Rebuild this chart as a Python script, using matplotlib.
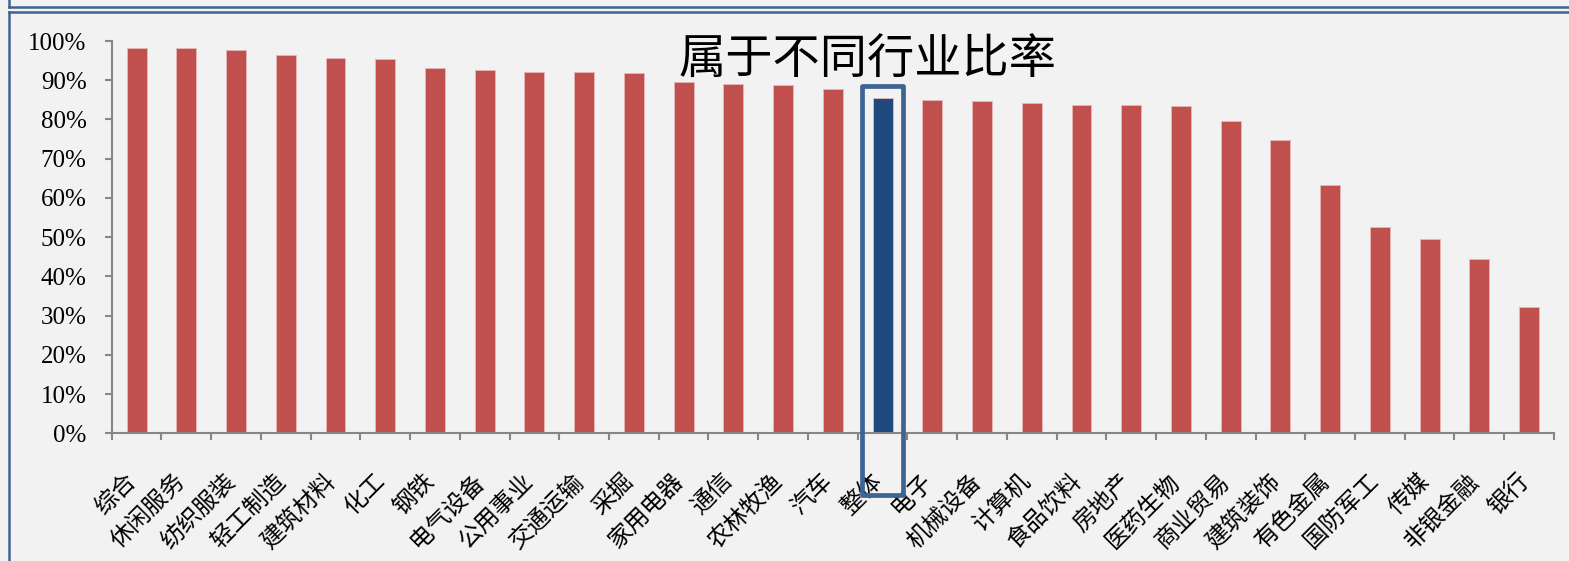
import matplotlib
matplotlib.use('Agg')
import matplotlib.pyplot as plt
from matplotlib.patches import Rectangle
from matplotlib.lines import Line2D
from matplotlib.transforms import ScaledTranslation
import numpy as np

industries = ['综合', '休闲服务', '纺织服装', '轻工制造', '建筑材料', '化工', '钢铁',
              '电气设备', '公用事业', '交通运输', '采掘', '家用电器', '通信', '农林牧渔',
              '汽车', '整体', '电子', '机械设备', '计算机', '食品饮料', '房地产',
              '医药生物', '商业贸易', '建筑装饰', '有色金属', '国防军工', '传媒',
              '非银金融', '银行']
ratio = [0.982, 0.981, 0.977, 0.964, 0.957, 0.953, 0.931, 0.925, 0.921, 0.920,
         0.918, 0.896, 0.890, 0.888, 0.877, 0.855, 0.850, 0.847, 0.842, 0.838,
         0.838, 0.835, 0.796, 0.747, 0.632, 0.527, 0.495, 0.445, 0.323]
highlight = '整体'
title = '属于不同行业比率'

bg = '#f2f2f2'
red = '#c0504d'
navy = '#1f497d'
frame = '#3e6493'
axis_gray = '#868686'

cjk = ['Noto Sans CJK SC', 'DejaVu Sans']

fig = plt.figure(figsize=(15.69, 5.61), dpi=100, facecolor=bg)
ax = fig.add_axes([0.0712, 0.2276, 0.9192, 0.6993], facecolor=bg)

x = np.arange(len(industries))
colors = [navy if name == highlight else red for name in industries]
ax.bar(x, ratio, width=0.4, color=colors, edgecolor='#e6b9b8', linewidth=0.6, zorder=2)

ax.set_xlim(-0.5, len(industries) - 0.5)
ax.set_ylim(0, 1)

# y axis: percent labels in a Times-like face
ax.set_yticks(np.arange(0, 1.01, 0.1))
ax.set_yticklabels(['%d%%' % v for v in range(0, 101, 10)], fontsize=18,
                   family='Liberation Serif')
ax.tick_params(axis='y', direction='out', length=5, width=1.5, color=axis_gray, pad=13)

# x axis: ticks between categories, names under each bar
ax.set_xticks(np.arange(-0.5, len(industries), 1.0))
ax.set_xticklabels([])
ax.set_xticks(x, minor=True)
ax.set_xticklabels(industries, minor=True, rotation=45, ha='right', va='center',
                   rotation_mode='anchor', fontsize=17, family=cjk)
ax.tick_params(axis='x', which='major', direction='out', length=5, width=1.5, color=axis_gray)
ax.tick_params(axis='x', which='minor', length=0, pad=32)
shift = ScaledTranslation(-0.04, 0, fig.dpi_scale_trans)
for lab in ax.get_xticklabels(minor=True):
    lab.set_transform(lab.get_transform() + shift)

for side in ['top', 'right']:
    ax.spines[side].set_visible(False)
for side in ['left', 'bottom']:
    ax.spines[side].set_color(axis_gray)
    ax.spines[side].set_linewidth(1.5)

# outline around the overall bar
i = industries.index(highlight)
box = Rectangle((i - 0.41, -0.157), 0.82, ratio[i] + 0.03 + 0.157, fill=False,
                edgecolor=frame, linewidth=3.4, joinstyle='round', clip_on=False, zorder=3)
ax.add_patch(box)

fig.text(0.553, 1 - 60 / 561, title, ha='center', va='center', fontsize=34, family=cjk)

# frame lines along the top and left edge
W, H = 1569, 561
def fline(x0, y0, x1, y1):
    fig.add_artist(Line2D([x0 / W, x1 / W], [1 - y0 / H, 1 - y1 / H], color=frame,
                          linewidth=1.8, transform=fig.transFigure))
fline(9, 0, 9, 7)
fline(9, 7, W, 7)
fline(9, 12, W, 12)
fline(9, 12, 9, H)

fig.savefig('out.png', dpi=100, facecolor=bg)
